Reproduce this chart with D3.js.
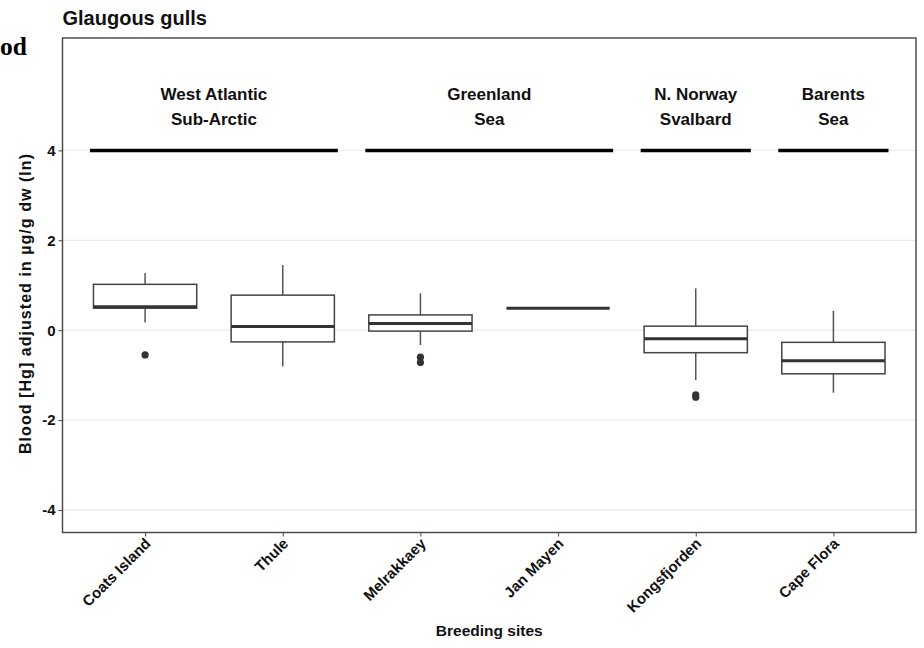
<!DOCTYPE html>
<html><head><meta charset="utf-8">
<script src="https://cdn.jsdelivr.net/npm/d3@7"></script>
<style>body{margin:0;background:#fff}svg{display:block}text{font-family:"Liberation Sans",Arial,sans-serif}</style>
</head><body>
<svg id="c" width="924" height="648"></svg>
<script>
const sites = ["Coats Island","Thule","Melrakkaey","Jan Mayen","Kongsfjorden","Cape Flora"];
const whiskerLow = [0.17,-0.81,-0.33,0.49,-1.11,-1.39];
const q1 = [0.49,-0.26,-0.02,0.49,-0.50,-0.97];
const median = [0.52,0.08,0.15,0.49,-0.19,-0.68];
const q3 = [1.02,0.78,0.34,0.49,0.09,-0.27];
const whiskerHigh = [1.27,1.45,0.82,0.49,0.93,0.43];
const outliers = [[-0.55],[],[-0.60,-0.72],[],[-1.44,-1.49],[]];
const regions = ["West Atlantic\nSub-Arctic","Greenland\nSea","N. Norway\nSvalbard","Barents\nSea"];
const regionFirst = ["Coats Island","Melrakkaey","Kongsfjorden","Cape Flora"];
const regionLast = ["Thule","Jan Mayen","Kongsfjorden","Cape Flora"];
const regionY = 4;
const yTicks = [-4,-2,0,2,4];

const svg = d3.select("#c");
const L=62.5, R=916, T=38, B=532.5;
const x = d3.scalePoint().domain(sites).range([L,R]).padding(0.6);
const step = x.step();
const y = d3.scaleLinear().domain([-4.5,6.5]).range([B,T]);

// grid
svg.append("g").selectAll("line").data(yTicks).join("line")
  .attr("x1",L).attr("x2",R).attr("y1",d=>y(d)).attr("y2",d=>y(d))
  .attr("stroke","#ebebeb").attr("stroke-width",1.3);

// region bars & labels
regions.forEach((r,i)=>{
  const x1 = x(regionFirst[i]) - step*0.4, x2 = x(regionLast[i]) + step*0.4;
  svg.append("line").attr("x1",x1).attr("x2",x2).attr("y1",y(regionY)).attr("y2",y(regionY))
    .attr("stroke","#000").attr("stroke-width",3.5);
  const t = svg.append("text").attr("x",(x1+x2)/2).attr("y",100).attr("text-anchor","middle")
    .attr("font-weight","bold").attr("font-size",17).attr("fill","#111");
  r.split("\n").forEach((s,k)=>t.append("tspan").attr("x",(x1+x2)/2).attr("dy",k?25:0).text(s));
});

// boxes
const bw = step*0.75;
const g = svg.append("g");
sites.forEach((s,i)=>{
  const cx = x(s);
  g.append("line").attr("x1",cx).attr("x2",cx).attr("y1",y(q3[i])).attr("y2",y(whiskerHigh[i]))
    .attr("stroke","#555").attr("stroke-width",1.5);
  g.append("line").attr("x1",cx).attr("x2",cx).attr("y1",y(q1[i])).attr("y2",y(whiskerLow[i]))
    .attr("stroke","#555").attr("stroke-width",1.5);
  g.append("rect").attr("x",cx-bw/2).attr("width",bw).attr("y",y(q3[i])).attr("height",y(q1[i])-y(q3[i]))
    .attr("fill","#fff").attr("stroke","#444").attr("stroke-width",1.5);
  g.append("line").attr("x1",cx-bw/2).attr("x2",cx+bw/2).attr("y1",y(median[i])).attr("y2",y(median[i]))
    .attr("stroke","#333").attr("stroke-width",3);
  outliers[i].forEach(o=>g.append("circle").attr("cx",cx).attr("cy",y(o)).attr("r",3.6).attr("fill","#333"));
});

// panel border
svg.append("rect").attr("x",L).attr("y",T).attr("width",R-L).attr("height",B-T)
  .attr("fill","none").attr("stroke","#444").attr("stroke-width",1.4);

// y axis
const ya = svg.append("g").attr("transform",`translate(${L},0)`)
  .call(d3.axisLeft(y).tickValues(yTicks).tickSize(4).tickPadding(3).tickFormat(d=>String(d)));
ya.select(".domain").remove();
ya.selectAll("line").attr("stroke","#444");
ya.selectAll("text").attr("font-weight","bold").attr("font-size",15).attr("fill","#111").style("font-family","Liberation Sans, Arial");

// x axis
const xa = svg.append("g").attr("transform",`translate(0,${B})`)
  .call(d3.axisBottom(x).tickSize(4).tickPadding(3));
xa.select(".domain").remove();
xa.selectAll("line").attr("stroke","#444");
xa.selectAll("text").attr("font-weight","bold").attr("font-size",15).attr("fill","#111")
  .style("font-family","Liberation Sans, Arial")
  .attr("text-anchor","end").attr("dy",null).attr("y",0)
  .attr("transform","translate(6,12) rotate(-45)");

// titles
svg.append("text").attr("x",L).attr("y",25).attr("font-weight","bold").attr("font-size",20).attr("fill","#111").text("Glaugous gulls");
svg.append("text").attr("x",(L+R)/2).attr("y",636).attr("text-anchor","middle").attr("font-weight","bold").attr("font-size",15.5).attr("fill","#111").text("Breeding sites");
svg.append("text").attr("transform",`translate(31,304) rotate(-90)`).attr("text-anchor","middle")
  .attr("font-weight","bold").attr("font-size",16).attr("textLength",300).attr("lengthAdjust","spacing")
  .attr("fill","#111").text("Blood [Hg] adjusted in µg/g dw (ln)");
svg.append("text").attr("x",27).attr("y",55).attr("text-anchor","end").attr("font-weight","bold")
  .attr("font-size",25.5).style("font-family","Liberation Serif, Times New Roman, serif").attr("fill","#000").text("Blood");
</script>
</body></html>
